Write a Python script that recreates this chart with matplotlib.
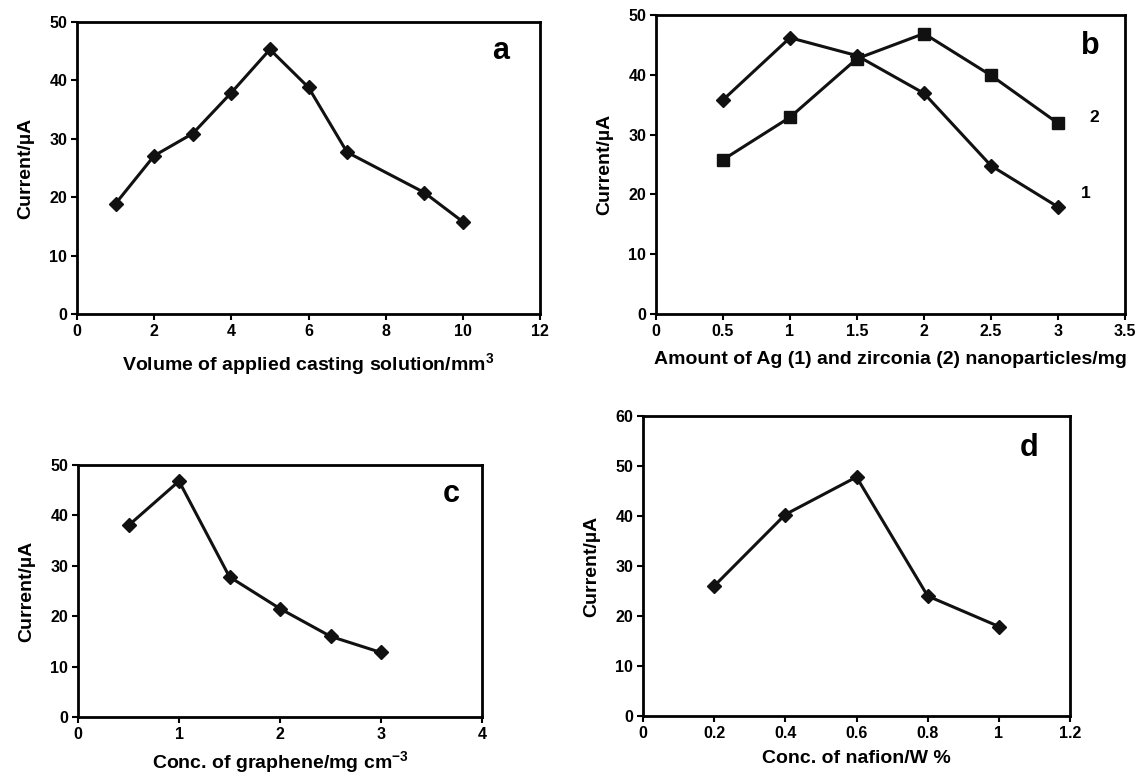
import matplotlib
matplotlib.use("Agg")
import matplotlib.pyplot as plt

fam = ['Liberation Sans', 'DejaVu Sans']
plt.rcParams['font.family'] = fam
plt.rcParams['font.weight'] = 'bold'
plt.rcParams['mathtext.fontset'] = 'custom'
plt.rcParams['mathtext.rm'] = 'Liberation Sans'
plt.rcParams['mathtext.bf'] = 'Liberation Sans:bold'
plt.rcParams['mathtext.default'] = 'bf'

# ---- data ----
a_x = [1, 2, 3, 4, 5, 6, 7, 9, 10]
a_y = [18.9, 27.1, 30.9, 37.9, 45.3, 38.8, 27.7, 20.8, 15.8]

b_x = [0.5, 1, 1.5, 2, 2.5, 3]
b_y1 = [35.8, 46.2, 43.2, 36.9, 24.8, 17.9]   # Ag
b_y2 = [25.8, 32.9, 42.7, 46.9, 39.9, 31.9]   # zirconia

c_x = [0.5, 1, 1.5, 2, 2.5, 3]
c_y = [38.0, 46.8, 27.8, 21.5, 16.0, 12.8]

d_x = [0.2, 0.4, 0.6, 0.8, 1.0]
d_y = [26.0, 40.3, 47.8, 24.0, 17.9]

a_xticks = [0, 2, 4, 6, 8, 10, 12]
b_xticks = [0, 0.5, 1, 1.5, 2, 2.5, 3, 3.5]
b_xticklabels = ['0', '0.5', '1', '1.5', '2', '2.5', '3', '3.5']
c_xticks = [0, 1, 2, 3, 4]
d_xticks = [0, 0.2, 0.4, 0.6, 0.8, 1.0, 1.2]
d_xticklabels = ['0', '0.2', '0.4', '0.6', '0.8', '1', '1.2']
y50 = [0, 10, 20, 30, 40, 50]
y60 = [0, 10, 20, 30, 40, 50, 60]

ylab = 'Current/\u00b5A'

W, H = 1137, 777
fig = plt.figure(figsize=(W / 100, H / 100), dpi=100)

def box(l, r, t, b):
    return [l / W, 1 - b / H, (r - l) / W, (b - t) / H]

def style(ax, xt, xtl, xmax, yt, ymax, xlabel, letter, lpos, xpad=9):
    ax.set_xlim(0, xmax)
    ax.set_ylim(0, ymax)
    ax.set_xticks(xt)
    ax.set_xticklabels(xtl if xtl else [str(v) for v in xt])
    ax.set_yticks(yt)
    for s in ax.spines.values():
        s.set_linewidth(2.0)
    ax.tick_params(direction='out', length=4, width=1.5, labelsize=11.5, pad=3,
                   top=False, right=False)
    for lab in ax.get_xticklabels() + ax.get_yticklabels():
        lab.set_fontweight('bold')
    ax.set_xlabel(xlabel, fontsize=14, fontweight='bold', labelpad=xpad)
    ax.set_ylabel(ylab, fontsize=14, fontweight='bold', labelpad=11)
    ax.text(lpos[0], lpos[1], letter, transform=ax.transAxes, fontsize=22,
            fontweight='bold', ha='center', va='center')

lw = 2.2
ms = 7

axa = fig.add_axes(box(77, 540, 22, 314))
axa.plot(a_x, a_y, color='#111111', lw=lw, marker='D', ms=ms, mfc='#111111', mec='#111111')
style(axa, a_xticks, None, 12, y50, 50,
      r'Volume of applied casting solution/mm$^{3}$', 'a', (0.915, 0.9))

axb = fig.add_axes(box(656, 1125, 15, 314))
axb.plot(b_x, b_y1, color='#111111', lw=lw, marker='D', ms=ms, mfc='#111111', mec='#111111')
axb.plot(b_x, b_y2, color='#111111', lw=lw, marker='s', ms=8.5, mfc='#111111', mec='#111111')
style(axb, b_xticks, b_xticklabels, 3.5, y50, 50,
      'Amount of Ag (1) and zirconia (2) nanoparticles/mg', 'b', (0.925, 0.895))
axb.text(3.27, 32.9, '2', fontsize=12.5, fontweight='bold', ha='center', va='center')
axb.text(3.21, 20.1, '1', fontsize=12.5, fontweight='bold', ha='center', va='center')

axc = fig.add_axes(box(78, 482, 465, 717))
axc.plot(c_x, c_y, color='#111111', lw=lw, marker='D', ms=ms, mfc='#111111', mec='#111111')
style(axc, c_xticks, None, 4, y50, 50,
      r'Conc. of graphene/mg cm$^{-3}$', 'c', (0.925, 0.885), xpad=5)

axd = fig.add_axes(box(643, 1070, 416, 716))
axd.plot(d_x, d_y, color='#111111', lw=lw, marker='D', ms=ms, mfc='#111111', mec='#111111')
style(axd, d_xticks, d_xticklabels, 1.2, y60, 60,
      'Conc. of nafion/W %', 'd', (0.905, 0.895), xpad=7)

fig.savefig('out.png', dpi=100)
